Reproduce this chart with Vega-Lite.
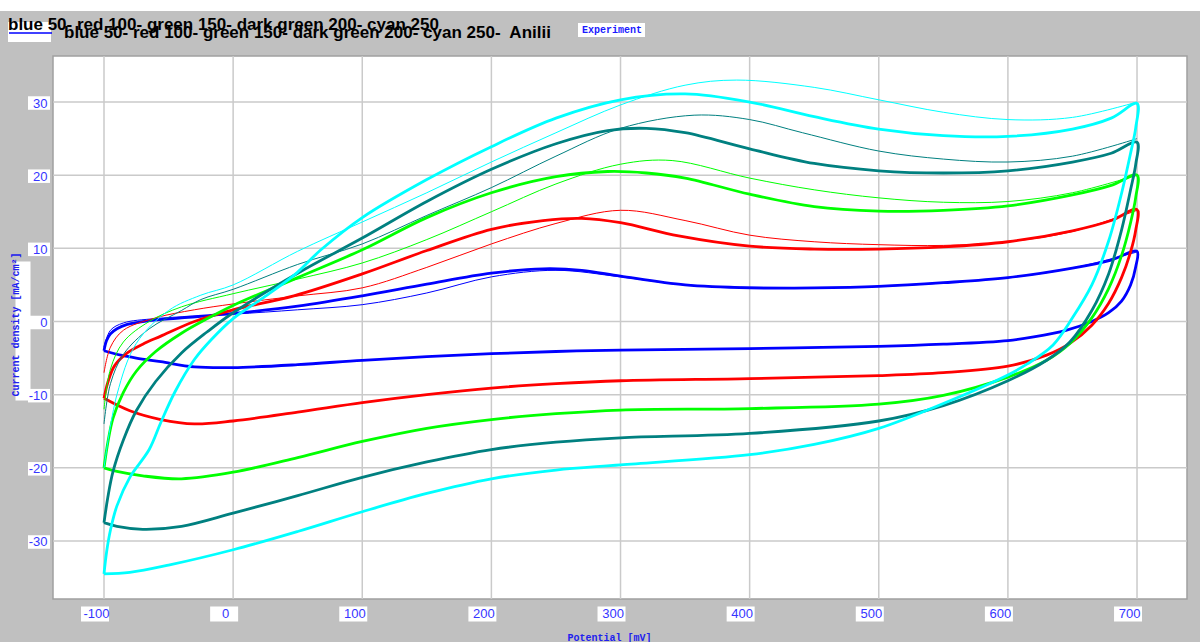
{
"$schema": "https://vega.github.io/schema/vega-lite/v6.json",
"width": 1134, "height": 543,
"autosize": "none",
"padding": {"left": 53, "top": 56, "right": 13, "bottom": 43},
"background": "#c0c0c0",
"view": {"fill": "white", "stroke": "#a0a0a0", "strokeWidth": 1.5},
"title": {"text": "blue 50- red 100- green 150- dark green 200- cyan 250", "anchor": "start", "frame": "group", "dx": -45, "dy": 630, "offset": 2, "font": "Liberation Sans", "fontSize": 17, "fontWeight": "bold", "color": "black", "zindex": 1},
"config": {
 "axisX": {"tickCount": 9, "grid": false, "ticks": false, "tickSize": 0, "domain": false, "labelExpr": "'' + datum.value", "labelColor": "#3535ff", "labelFont": "Liberation Sans", "labelFontSize": 13, "labelPadding": 8, "labelOffset": -8, "labelFlush": false, "labelOverlap": false, "titleFont": "Liberation Mono", "titleFontSize": 10, "titleFontWeight": "bold", "titleColor": "#2020ee", "titleX": 556, "titleY": 33, "titleBaseline": "top", "titleAlign": "center"},
 "axisY": {"tickCount": 7, "grid": false, "ticks": false, "tickSize": 0, "domain": false, "labelExpr": "'' + datum.value", "labelColor": "#3535ff", "labelFont": "Liberation Sans", "labelFontSize": 13, "labelPadding": 6, "labelOffset": 1, "labelFlush": false, "labelOverlap": false, "titleFont": "Liberation Mono", "titleFontSize": 10, "titleFontWeight": "bold", "titleColor": "#2020ee", "titleX": -38, "titleY": 268, "titleAngle": -90, "titleBaseline": "middle", "titleAlign": "center"}
},
"datasets": {
"gx": [{"x":-100},{"x":0},{"x":100},{"x":200},{"x":300},{"x":400},{"x":500},{"x":600},{"x":700}],
"gy": [{"y":-30},{"y":-20},{"y":-10},{"y":0},{"y":10},{"y":20},{"y":30}],
"cv": [
{"s":"blue","k":"all","x":-100,"y":-4},{"s":"blue","k":"all","x":-98,"y":-2.6},{"s":"blue","k":"all","x":-95,"y":-1.7},{"s":"blue","k":"all","x":-90,"y":-1.0},{"s":"blue","k":"all","x":-82,"y":-0.4},{"s":"blue","k":"all","x":-66,"y":0.1},{"s":"blue","k":"all","x":-40,"y":0.5},{"s":"blue","k":"all","x":0,"y":1.1},{"s":"blue","k":"all","x":50,"y":2.1},{"s":"blue","k":"all","x":100,"y":3.5},{"s":"blue","k":"all","x":150,"y":5.1},{"s":"blue","k":"all","x":200,"y":6.6},{"s":"blue","k":"all","x":240,"y":7.2},{"s":"blue","k":"all","x":270,"y":7.0},{"s":"blue","k":"all","x":300,"y":6.2},{"s":"blue","k":"all","x":350,"y":5.0},{"s":"blue","k":"all","x":400,"y":4.6},{"s":"blue","k":"all","x":450,"y":4.6},{"s":"blue","k":"all","x":500,"y":4.8},{"s":"blue","k":"all","x":550,"y":5.3},{"s":"blue","k":"all","x":600,"y":6.0},{"s":"blue","k":"all","x":650,"y":7.3},{"s":"blue","k":"all","x":680,"y":8.4},{"s":"blue","k":"all","x":700,"y":9.6},
{"s":"blue","k":"all","x":699,"y":7.5},{"s":"blue","k":"all","x":695,"y":5},{"s":"blue","k":"all","x":688,"y":2.8},{"s":"blue","k":"all","x":678,"y":1.2},{"s":"blue","k":"all","x":665,"y":0},{"s":"blue","k":"all","x":645,"y":-1.2},{"s":"blue","k":"all","x":620,"y":-2.1},{"s":"blue","k":"all","x":600,"y":-2.6},{"s":"blue","k":"all","x":550,"y":-3.1},{"s":"blue","k":"all","x":500,"y":-3.4},{"s":"blue","k":"all","x":400,"y":-3.7},{"s":"blue","k":"all","x":300,"y":-3.9},{"s":"blue","k":"all","x":250,"y":-4.1},{"s":"blue","k":"all","x":200,"y":-4.4},{"s":"blue","k":"all","x":150,"y":-4.8},{"s":"blue","k":"all","x":100,"y":-5.3},{"s":"blue","k":"all","x":50,"y":-5.9},{"s":"blue","k":"all","x":0,"y":-6.3},{"s":"blue","k":"all","x":-30,"y":-6.2},{"s":"blue","k":"all","x":-56,"y":-5.5},{"s":"blue","k":"all","x":-75,"y":-5.0},{"s":"blue","k":"all","x":-87,"y":-4.6},{"s":"blue","k":"all","x":-100,"y":-4.0},
{"s":"blue","k":"first","x":-100,"y":-3.5},{"s":"blue","k":"first","x":-95,"y":-1.2},{"s":"blue","k":"first","x":-85,"y":-0.2},{"s":"blue","k":"first","x":-60,"y":0.4},{"s":"blue","k":"first","x":0,"y":1.0},{"s":"blue","k":"first","x":50,"y":1.6},{"s":"blue","k":"first","x":100,"y":2.3},{"s":"blue","k":"first","x":150,"y":3.9},{"s":"blue","k":"first","x":200,"y":6.1},{"s":"blue","k":"first","x":250,"y":7.0},{"s":"blue","k":"first","x":300,"y":6.1},{"s":"blue","k":"first","x":350,"y":5.0},{"s":"blue","k":"first","x":400,"y":4.7},{"s":"blue","k":"first","x":500,"y":4.8},{"s":"blue","k":"first","x":600,"y":6.0},{"s":"blue","k":"first","x":650,"y":7.3},{"s":"blue","k":"first","x":700,"y":9.5},
{"s":"red","k":"all","x":-100,"y":-10.5},{"s":"red","k":"all","x":-97,"y":-8.3},{"s":"red","k":"all","x":-92,"y":-6.1},{"s":"red","k":"all","x":-82,"y":-4.3},{"s":"red","k":"all","x":-70,"y":-3.1},{"s":"red","k":"all","x":-56,"y":-2.0},{"s":"red","k":"all","x":-30,"y":0},{"s":"red","k":"all","x":0,"y":1.6},{"s":"red","k":"all","x":47,"y":3.5},{"s":"red","k":"all","x":100,"y":6.5},{"s":"red","k":"all","x":150,"y":9.7},{"s":"red","k":"all","x":200,"y":12.6},{"s":"red","k":"all","x":240,"y":13.8},{"s":"red","k":"all","x":270,"y":14.1},{"s":"red","k":"all","x":300,"y":13.5},{"s":"red","k":"all","x":345,"y":11.7},{"s":"red","k":"all","x":400,"y":10.3},{"s":"red","k":"all","x":450,"y":9.9},{"s":"red","k":"all","x":500,"y":9.9},{"s":"red","k":"all","x":550,"y":10.2},{"s":"red","k":"all","x":600,"y":10.9},{"s":"red","k":"all","x":650,"y":12.4},{"s":"red","k":"all","x":680,"y":13.8},{"s":"red","k":"all","x":700,"y":15.3},
{"s":"red","k":"all","x":699,"y":12.5},{"s":"red","k":"all","x":695,"y":9.5},{"s":"red","k":"all","x":688,"y":6},{"s":"red","k":"all","x":678,"y":2.5},{"s":"red","k":"all","x":665,"y":-0.5},{"s":"red","k":"all","x":648,"y":-3},{"s":"red","k":"all","x":630,"y":-4.6},{"s":"red","k":"all","x":600,"y":-6.1},{"s":"red","k":"all","x":550,"y":-7.0},{"s":"red","k":"all","x":500,"y":-7.4},{"s":"red","k":"all","x":400,"y":-7.8},{"s":"red","k":"all","x":300,"y":-8.1},{"s":"red","k":"all","x":250,"y":-8.5},{"s":"red","k":"all","x":200,"y":-9.1},{"s":"red","k":"all","x":150,"y":-10.0},{"s":"red","k":"all","x":100,"y":-11.1},{"s":"red","k":"all","x":50,"y":-12.4},{"s":"red","k":"all","x":0,"y":-13.6},{"s":"red","k":"all","x":-30,"y":-14.0},{"s":"red","k":"all","x":-56,"y":-13.4},{"s":"red","k":"all","x":-80,"y":-12.2},{"s":"red","k":"all","x":-100,"y":-10.5},
{"s":"red","k":"first","x":-100,"y":-7},{"s":"red","k":"first","x":-95,"y":-3.5},{"s":"red","k":"first","x":-85,"y":-1.2},{"s":"red","k":"first","x":-60,"y":0.5},{"s":"red","k":"first","x":-30,"y":1.6},{"s":"red","k":"first","x":0,"y":2.4},{"s":"red","k":"first","x":50,"y":3.5},{"s":"red","k":"first","x":100,"y":4.6},{"s":"red","k":"first","x":150,"y":7.4},{"s":"red","k":"first","x":200,"y":10.6},{"s":"red","k":"first","x":250,"y":13.4},{"s":"red","k":"first","x":300,"y":15.2},{"s":"red","k":"first","x":350,"y":13.8},{"s":"red","k":"first","x":400,"y":11.8},{"s":"red","k":"first","x":450,"y":10.9},{"s":"red","k":"first","x":500,"y":10.5},{"s":"red","k":"first","x":550,"y":10.4},{"s":"red","k":"first","x":600,"y":10.9},{"s":"red","k":"first","x":650,"y":12.3},{"s":"red","k":"first","x":700,"y":15.2},
{"s":"green","k":"all","x":-100,"y":-20},{"s":"green","k":"all","x":-97,"y":-16.5},{"s":"green","k":"all","x":-93,"y":-13.2},{"s":"green","k":"all","x":-85,"y":-9.7},{"s":"green","k":"all","x":-75,"y":-6.8},{"s":"green","k":"all","x":-60,"y":-4.1},{"s":"green","k":"all","x":-40,"y":-1.6},{"s":"green","k":"all","x":-20,"y":0.4},{"s":"green","k":"all","x":0,"y":2.2},{"s":"green","k":"all","x":50,"y":6.0},{"s":"green","k":"all","x":100,"y":9.8},{"s":"green","k":"all","x":150,"y":14.2},{"s":"green","k":"all","x":200,"y":17.6},{"s":"green","k":"all","x":250,"y":19.8},{"s":"green","k":"all","x":290,"y":20.5},{"s":"green","k":"all","x":320,"y":20.3},{"s":"green","k":"all","x":350,"y":19.6},{"s":"green","k":"all","x":400,"y":17.4},{"s":"green","k":"all","x":450,"y":15.7},{"s":"green","k":"all","x":500,"y":15.1},{"s":"green","k":"all","x":550,"y":15.2},{"s":"green","k":"all","x":600,"y":15.8},{"s":"green","k":"all","x":650,"y":17.3},{"s":"green","k":"all","x":680,"y":18.6},{"s":"green","k":"all","x":700,"y":20},
{"s":"green","k":"all","x":699,"y":17},{"s":"green","k":"all","x":695,"y":13.5},{"s":"green","k":"all","x":688,"y":9},{"s":"green","k":"all","x":678,"y":4.5},{"s":"green","k":"all","x":665,"y":0.5},{"s":"green","k":"all","x":648,"y":-3},{"s":"green","k":"all","x":630,"y":-5.3},{"s":"green","k":"all","x":600,"y":-7.6},{"s":"green","k":"all","x":550,"y":-10.1},{"s":"green","k":"all","x":500,"y":-11.3},{"s":"green","k":"all","x":400,"y":-11.9},{"s":"green","k":"all","x":300,"y":-12.1},{"s":"green","k":"all","x":250,"y":-12.6},{"s":"green","k":"all","x":200,"y":-13.4},{"s":"green","k":"all","x":150,"y":-14.6},{"s":"green","k":"all","x":100,"y":-16.4},{"s":"green","k":"all","x":50,"y":-18.6},{"s":"green","k":"all","x":0,"y":-20.6},{"s":"green","k":"all","x":-40,"y":-21.5},{"s":"green","k":"all","x":-70,"y":-21.1},{"s":"green","k":"all","x":-90,"y":-20.5},{"s":"green","k":"all","x":-100,"y":-20},
{"s":"green","k":"first","x":-100,"y":-12},{"s":"green","k":"first","x":-95,"y":-6.5},{"s":"green","k":"first","x":-85,"y":-2.8},{"s":"green","k":"first","x":-65,"y":0},{"s":"green","k":"first","x":-40,"y":2},{"s":"green","k":"first","x":0,"y":3.8},{"s":"green","k":"first","x":50,"y":5.8},{"s":"green","k":"first","x":100,"y":8.0},{"s":"green","k":"first","x":150,"y":11.2},{"s":"green","k":"first","x":200,"y":15.0},{"s":"green","k":"first","x":250,"y":18.8},{"s":"green","k":"first","x":300,"y":21.5},{"s":"green","k":"first","x":340,"y":22.0},{"s":"green","k":"first","x":400,"y":19.6},{"s":"green","k":"first","x":450,"y":18.0},{"s":"green","k":"first","x":500,"y":16.9},{"s":"green","k":"first","x":550,"y":16.3},{"s":"green","k":"first","x":600,"y":16.4},{"s":"green","k":"first","x":650,"y":17.6},{"s":"green","k":"first","x":700,"y":20},
{"s":"teal","k":"all","x":-100,"y":-27.5},{"s":"teal","k":"all","x":-97,"y":-24},{"s":"teal","k":"all","x":-93,"y":-20.5},{"s":"teal","k":"all","x":-85,"y":-16.2},{"s":"teal","k":"all","x":-75,"y":-12.2},{"s":"teal","k":"all","x":-60,"y":-8.2},{"s":"teal","k":"all","x":-40,"y":-4.3},{"s":"teal","k":"all","x":-20,"y":-1.4},{"s":"teal","k":"all","x":0,"y":1.2},{"s":"teal","k":"all","x":50,"y":6.6},{"s":"teal","k":"all","x":100,"y":11.4},{"s":"teal","k":"all","x":150,"y":16.4},{"s":"teal","k":"all","x":200,"y":20.8},{"s":"teal","k":"all","x":250,"y":24.3},{"s":"teal","k":"all","x":290,"y":26.1},{"s":"teal","k":"all","x":320,"y":26.4},{"s":"teal","k":"all","x":350,"y":25.8},{"s":"teal","k":"all","x":400,"y":23.6},{"s":"teal","k":"all","x":450,"y":21.6},{"s":"teal","k":"all","x":500,"y":20.6},{"s":"teal","k":"all","x":550,"y":20.3},{"s":"teal","k":"all","x":600,"y":20.6},{"s":"teal","k":"all","x":650,"y":21.8},{"s":"teal","k":"all","x":680,"y":23.0},{"s":"teal","k":"all","x":700,"y":24.5},
{"s":"teal","k":"all","x":699,"y":21.5},{"s":"teal","k":"all","x":695,"y":18},{"s":"teal","k":"all","x":688,"y":12.5},{"s":"teal","k":"all","x":678,"y":6.5},{"s":"teal","k":"all","x":665,"y":1.5},{"s":"teal","k":"all","x":648,"y":-2.8},{"s":"teal","k":"all","x":630,"y":-5.3},{"s":"teal","k":"all","x":600,"y":-8.1},{"s":"teal","k":"all","x":550,"y":-11.5},{"s":"teal","k":"all","x":500,"y":-13.6},{"s":"teal","k":"all","x":400,"y":-15.3},{"s":"teal","k":"all","x":300,"y":-15.9},{"s":"teal","k":"all","x":250,"y":-16.5},{"s":"teal","k":"all","x":200,"y":-17.5},{"s":"teal","k":"all","x":150,"y":-19.2},{"s":"teal","k":"all","x":100,"y":-21.3},{"s":"teal","k":"all","x":50,"y":-23.8},{"s":"teal","k":"all","x":0,"y":-26.2},{"s":"teal","k":"all","x":-40,"y":-28.0},{"s":"teal","k":"all","x":-70,"y":-28.4},{"s":"teal","k":"all","x":-90,"y":-28.0},{"s":"teal","k":"all","x":-100,"y":-27.5},
{"s":"teal","k":"first","x":-100,"y":-14},{"s":"teal","k":"first","x":-95,"y":-8.5},{"s":"teal","k":"first","x":-85,"y":-4.5},{"s":"teal","k":"first","x":-65,"y":-1},{"s":"teal","k":"first","x":-40,"y":1.5},{"s":"teal","k":"first","x":-25,"y":3.0},{"s":"teal","k":"first","x":0,"y":4.4},{"s":"teal","k":"first","x":50,"y":7.8},{"s":"teal","k":"first","x":100,"y":10.6},{"s":"teal","k":"first","x":150,"y":14.5},{"s":"teal","k":"first","x":200,"y":18.3},{"s":"teal","k":"first","x":250,"y":22.6},{"s":"teal","k":"first","x":300,"y":26.4},{"s":"teal","k":"first","x":357,"y":28.2},{"s":"teal","k":"first","x":400,"y":27.6},{"s":"teal","k":"first","x":441,"y":25.8},{"s":"teal","k":"first","x":500,"y":23.3},{"s":"teal","k":"first","x":550,"y":22.2},{"s":"teal","k":"first","x":600,"y":21.8},{"s":"teal","k":"first","x":650,"y":22.6},{"s":"teal","k":"first","x":700,"y":25},
{"s":"cyan","k":"all","x":-100,"y":-34.5},{"s":"cyan","k":"all","x":-98,"y":-31.5},{"s":"cyan","k":"all","x":-95,"y":-28.5},{"s":"cyan","k":"all","x":-90,"y":-25.2},{"s":"cyan","k":"all","x":-80,"y":-21.3},{"s":"cyan","k":"all","x":-65,"y":-17.5},{"s":"cyan","k":"all","x":-56,"y":-13.8},{"s":"cyan","k":"all","x":-45,"y":-9.6},{"s":"cyan","k":"all","x":-30,"y":-5.2},{"s":"cyan","k":"all","x":-17,"y":-2.5},{"s":"cyan","k":"all","x":0,"y":0.4},{"s":"cyan","k":"all","x":22,"y":3.1},{"s":"cyan","k":"all","x":47,"y":6.3},{"s":"cyan","k":"all","x":68,"y":9.8},{"s":"cyan","k":"all","x":100,"y":14.2},{"s":"cyan","k":"all","x":150,"y":19.4},{"s":"cyan","k":"all","x":200,"y":23.9},{"s":"cyan","k":"all","x":250,"y":27.8},{"s":"cyan","k":"all","x":300,"y":30.3},{"s":"cyan","k":"all","x":350,"y":31.1},{"s":"cyan","k":"all","x":400,"y":30.0},{"s":"cyan","k":"all","x":450,"y":28.0},{"s":"cyan","k":"all","x":500,"y":26.3},{"s":"cyan","k":"all","x":550,"y":25.4},{"s":"cyan","k":"all","x":600,"y":25.3},{"s":"cyan","k":"all","x":650,"y":26.3},{"s":"cyan","k":"all","x":680,"y":27.8},{"s":"cyan","k":"all","x":700,"y":29.8},
{"s":"cyan","k":"all","x":699,"y":26.5},{"s":"cyan","k":"all","x":695,"y":23},{"s":"cyan","k":"all","x":688,"y":17.5},{"s":"cyan","k":"all","x":678,"y":11},{"s":"cyan","k":"all","x":665,"y":5},{"s":"cyan","k":"all","x":650,"y":0.5},{"s":"cyan","k":"all","x":635,"y":-3.2},{"s":"cyan","k":"all","x":615,"y":-5.8},{"s":"cyan","k":"all","x":600,"y":-7.3},{"s":"cyan","k":"all","x":550,"y":-11.2},{"s":"cyan","k":"all","x":500,"y":-14.6},{"s":"cyan","k":"all","x":450,"y":-16.8},{"s":"cyan","k":"all","x":400,"y":-18.2},{"s":"cyan","k":"all","x":300,"y":-19.6},{"s":"cyan","k":"all","x":250,"y":-20.3},{"s":"cyan","k":"all","x":200,"y":-21.5},{"s":"cyan","k":"all","x":150,"y":-23.5},{"s":"cyan","k":"all","x":100,"y":-26.0},{"s":"cyan","k":"all","x":50,"y":-28.7},{"s":"cyan","k":"all","x":0,"y":-31.2},{"s":"cyan","k":"all","x":-50,"y":-33.3},{"s":"cyan","k":"all","x":-80,"y":-34.3},{"s":"cyan","k":"all","x":-100,"y":-34.5},
{"s":"cyan","k":"first","x":-100,"y":-20},{"s":"cyan","k":"first","x":-90,"y":-10},{"s":"cyan","k":"first","x":-75,"y":-3},{"s":"cyan","k":"first","x":-50,"y":1.5},{"s":"cyan","k":"first","x":-25,"y":3.6},{"s":"cyan","k":"first","x":0,"y":5.0},{"s":"cyan","k":"first","x":50,"y":9.6},{"s":"cyan","k":"first","x":100,"y":13.6},{"s":"cyan","k":"first","x":150,"y":17.6},{"s":"cyan","k":"first","x":200,"y":21.8},{"s":"cyan","k":"first","x":250,"y":25.8},{"s":"cyan","k":"first","x":300,"y":29.6},{"s":"cyan","k":"first","x":350,"y":32.3},{"s":"cyan","k":"first","x":390,"y":33.0},{"s":"cyan","k":"first","x":450,"y":32.0},{"s":"cyan","k":"first","x":500,"y":30.3},{"s":"cyan","k":"first","x":550,"y":28.6},{"s":"cyan","k":"first","x":600,"y":27.6},{"s":"cyan","k":"first","x":650,"y":27.9},{"s":"cyan","k":"first","x":700,"y":30}
]
},
"layer": [
{"data": {"name": "gx"}, "mark": {"type": "rule", "color": "#cacaca", "strokeWidth": 1.5},
 "encoding": {"x": {"field": "x", "type": "quantitative", "title": "Potential [mV]", "axis": {"zindex": 1}, "scale": {"domain": [-139.5, 738.7], "nice": false, "zero": false}}}},
{"data": {"name": "gy"}, "mark": {"type": "rule", "color": "#cacaca", "strokeWidth": 1.5},
 "encoding": {"y": {"field": "y", "type": "quantitative", "title": "Current density [mA/cm²]", "axis": {"zindex": 1}, "scale": {"domain": [-37.93, 36.29], "nice": false, "zero": false}}}},
{"data": {"name": "cv"}, "mark": {"type": "line", "interpolate": "catmull-rom"},
 "encoding": {
  "x": {"field": "x", "type": "quantitative", "title": "Potential [mV]", "axis": {"zindex": 1}, "scale": {"domain": [-139.5, 738.7], "nice": false, "zero": false}},
  "y": {"field": "y", "type": "quantitative", "title": "Current density [mA/cm²]", "axis": {"zindex": 1}, "scale": {"domain": [-37.93, 36.29], "nice": false, "zero": false}},
  "color": {"field": "s", "type": "nominal", "scale": {"domain": ["blue","red","green","teal","cyan"], "range": ["#0000ff","#ff0000","#00ff00","#008080","#00ffff"]}, "legend": null},
  "detail": {"field": "k"},
  "strokeWidth": {"field": "k", "type": "nominal", "scale": {"domain": ["all","first"], "range": [2.8, 1]}, "legend": null},
  "order": {"value": null}
 }},
{"data": {"name": "gx"}, "mark": {"type": "point", "shape": "M-1,-0.536H1V0.536H-1Z", "size": 784, "filled": true, "color": "white", "opacity": 1, "strokeWidth": 0, "xOffset": -9, "yOffset": 15},
 "encoding": {"x": {"field": "x", "type": "quantitative", "title": "Potential [mV]", "axis": {"zindex": 1}, "scale": {"domain": [-139.5, 738.7], "nice": false, "zero": false}},
              "y": {"datum": -37.93, "type": "quantitative", "title": "Current density [mA/cm²]", "axis": {"zindex": 1}, "scale": {"domain": [-37.93, 36.29], "nice": false, "zero": false}}}},
{"data": {"name": "gy"}, "mark": {"type": "point", "shape": "M-1,-0.614H1V0.614H-1Z", "size": 484, "filled": true, "color": "white", "opacity": 1, "strokeWidth": 0, "xOffset": -14, "yOffset": 1},
 "encoding": {"y": {"field": "y", "type": "quantitative", "title": "Current density [mA/cm²]", "axis": {"zindex": 1}, "scale": {"domain": [-37.93, 36.29], "nice": false, "zero": false}},
              "x": {"datum": -139.5, "type": "quantitative", "title": "Potential [mV]", "axis": {"zindex": 1}, "scale": {"domain": [-139.5, 738.7], "nice": false, "zero": false}}}},
{"data": {"values": []}, "mark": {"type": "point"},
 "encoding": {"fill": {"datum": "box", "scale": {"range": ["white"]},
   "legend": {"title": null, "orient": "none", "legendX": -45, "legendY": -45.5, "padding": 0, "symbolType": "M-1,-0.465H1V0.465H-1Z", "symbolSize": 1849, "symbolFillColor": "white", "symbolStrokeWidth": 0, "symbolOpacity": 1, "labelExpr": "''", "zindex": 0}}}},
{"data": {"values": []}, "mark": {"type": "point", "filled": true, "color": "white"},
 "encoding": {"opacity": {"datum": "strip", "type": "nominal", "scale": {"range": [1]},
   "legend": {"title": null, "orient": "none", "legendX": -53, "legendY": -650.5, "padding": 0, "symbolType": "M-1,-0.00917H1V0.00917H-1Z", "symbolSize": 1440000, "symbolFillColor": "white", "symbolStrokeColor": "white", "symbolStrokeWidth": 0, "symbolOpacity": 1, "labelExpr": "''", "zindex": 0}}}},
{"data": {"values": []}, "mark": {"type": "point"},
 "encoding": {"stroke": {"datum": "ybox", "type": "nominal", "scale": {"range": ["white"]},
   "legend": {"title": null, "orient": "none", "legendX": -107.5, "legendY": 197.5, "padding": 0, "symbolType": "M0,-0.993V0.993", "symbolSize": 19600, "symbolStrokeColor": "white", "symbolStrokeWidth": 15, "symbolOpacity": 1, "labelExpr": "''", "zindex": 0}}}},
{"data": {"values": []}, "mark": {"type": "point"},
 "encoding": {"shape": {"datum": "blue 50- red 100- green 150- dark green 200- cyan 250-\u00a0 Anilii", "scale": {"range": ["stroke"]},
   "legend": {"title": null, "orient": "none", "legendX": -45, "legendY": -45.5, "padding": 0, "symbolType": "stroke", "symbolSize": 1849, "symbolStrokeColor": "#0000ff", "symbolStrokeWidth": 1.5, "symbolOpacity": 1, "labelFont": "Liberation Sans", "labelFontSize": 17, "labelFontWeight": "bold", "labelColor": "black", "labelOffset": 11, "labelLimit": 1000, "zindex": 1}}}},
{"data": {"values": []}, "mark": {"type": "point"},
 "encoding": {"strokeDash": {"datum": "Experiment",
   "legend": {"title": null, "orient": "none", "legendX": 525, "legendY": -33, "fillColor": "white", "padding": 2, "symbolSize": 0, "symbolOpacity": 0, "symbolStrokeWidth": 0, "labelOffset": -8, "labelFont": "Liberation Mono", "labelFontSize": 10, "labelFontWeight": "bold", "labelColor": "#1a1aff", "labelLimit": 1000, "zindex": 1}}}}
]
}
